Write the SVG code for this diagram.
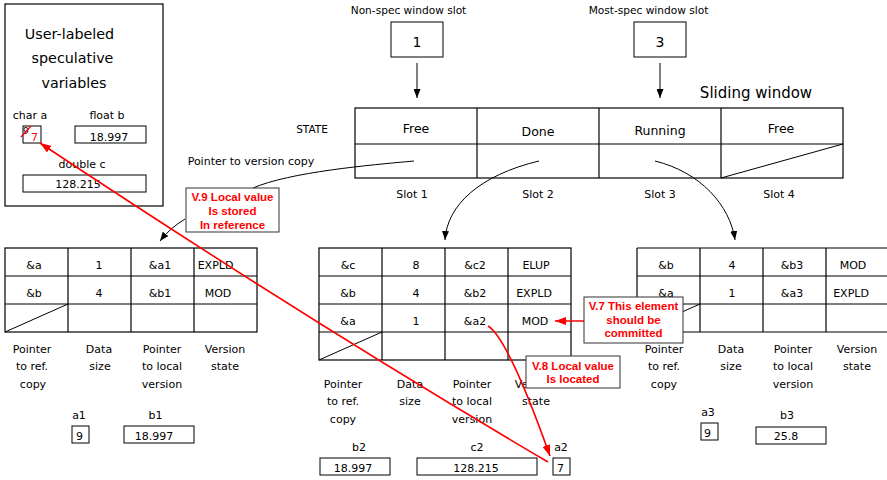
<svg xmlns="http://www.w3.org/2000/svg" width="887" height="480" viewBox="0 0 887 480">
<style>
.t{font-family:"DejaVu Sans",sans-serif;font-size:11px;fill:#000;text-anchor:middle}
.ts{font-family:"DejaVu Sans",sans-serif;font-size:11px;fill:#000;text-anchor:start}
.st{font-family:"DejaVu Sans",sans-serif;font-size:12.5px;fill:#000;text-anchor:middle}
.big{font-family:"DejaVu Sans",sans-serif;font-size:14px;fill:#000;text-anchor:middle}
.cell{fill:none;stroke:#000;stroke-width:1.2}
.box{fill:#fff;stroke:#000;stroke-width:1}
.red{font-family:"Liberation Sans",Arial,sans-serif;font-weight:bold;font-size:11.5px;fill:#f00;text-anchor:middle}
.callout{fill:#fff;stroke:#333;stroke-width:1}
.conn{fill:none;stroke:#000;stroke-width:1}
.rconn{fill:none;stroke:#f00;stroke-width:1.6}
</style>
<defs>
<marker id="ah" markerUnits="userSpaceOnUse" markerWidth="9" markerHeight="7" refX="9" refY="3.5" orient="auto"><path d="M0,0 L9,3.5 L0,7 z" fill="#000"/></marker>
<marker id="rah" markerUnits="userSpaceOnUse" markerWidth="11" markerHeight="8" refX="11" refY="4" orient="auto"><path d="M0,0 L11,4 L0,8 z" fill="#f00"/></marker>
</defs>
<rect width="887" height="480" fill="#fff"/>

<g id="user-vars">
<rect x="5" y="4" width="158" height="202" class="cell"/>
<text x="69.5" y="39" class="big" style="font-size:14.3px">User-labeled</text>
<text x="72.5" y="63" class="big" style="font-size:14.3px">speculative</text>
<text x="74" y="88" class="big" style="font-size:14.3px">variables</text>
<text x="30" y="119" class="t">char a</text>
<text x="107" y="119" class="t">float b</text>
<rect x="23" y="126" width="18" height="17" class="box"/>
<text x="23" y="134" class="ts" style="font-size:9px">9</text>
<line x1="21" y1="137" x2="31" y2="126" stroke="#f00" stroke-width="1.3"/>
<text x="31" y="141" class="ts" style="fill:#f00">7</text>
<rect x="75" y="126" width="71" height="17" class="box"/>
<text x="109" y="141" class="t">18.997</text>
<text x="82" y="168" class="t">double c</text>
<rect x="23" y="175" width="123" height="17" class="box"/>
<text x="78" y="188" class="t">128.215</text>
</g>

<g id="nonspec-slot">
<text x="408.5" y="14" class="t" style="font-size:10.6px">Non-spec window slot</text>
<rect x="391" y="22" width="52" height="35" class="box"/>
<text x="417" y="47" class="big">1</text>
</g>
<g id="mostspec-slot">
<text x="648.5" y="14" class="t" style="font-size:10.6px">Most-spec window slot</text>
<rect x="634" y="22" width="52" height="35" class="box"/>
<text x="660" y="47" class="big">3</text>
</g>

<g id="sliding-window">
<text x="756" y="98" class="big" style="font-size:15px">Sliding window</text>
<text x="312" y="133" class="t" style="font-size:10.5px">STATE</text>
<text x="251" y="165" class="t">Pointer to version copy</text>
<rect x="355" y="108" width="488" height="70" class="cell"/>
<line x1="355" y1="144" x2="843" y2="144" class="cell"/>
<line x1="477" y1="108" x2="477" y2="178" class="cell"/>
<line x1="599" y1="108" x2="599" y2="178" class="cell"/>
<line x1="721" y1="108" x2="721" y2="178" class="cell"/>
<line x1="721" y1="178" x2="843" y2="144" class="conn"/>
<text x="416" y="133" class="st">Free</text>
<text x="538" y="136" class="st">Done</text>
<text x="660" y="135" class="st">Running</text>
<text x="781" y="133" class="st">Free</text>
<text x="412" y="198" class="t">Slot 1</text>
<text x="538" y="198" class="t">Slot 2</text>
<text x="660" y="198" class="t">Slot 3</text>
<text x="779" y="198" class="t">Slot 4</text>
</g>

<g id="table-slot1">
<rect x="5" y="248" width="252" height="84" class="cell"/>
<line x1="5" y1="276" x2="257" y2="276" class="cell"/>
<line x1="5" y1="304" x2="257" y2="304" class="cell"/>
<line x1="68" y1="248" x2="68" y2="332" class="cell"/>
<line x1="131" y1="248" x2="131" y2="332" class="cell"/>
<line x1="194" y1="248" x2="194" y2="332" class="cell"/>
<line x1="5" y1="332" x2="68" y2="304" class="conn"/>
<text x="34" y="269" class="t">&amp;a</text>
<text x="99" y="269" class="t">1</text>
<text x="160" y="269" class="t">&amp;a1</text>
<text x="215.5" y="269" class="t">EXPLD</text>
<text x="34" y="297" class="t">&amp;b</text>
<text x="99" y="297" class="t">4</text>
<text x="160" y="297" class="t">&amp;b1</text>
<text x="218" y="297" class="t">MOD</text>
<text x="32" y="353" class="t">Pointer</text>
<text x="32" y="370" class="t">to ref.</text>
<text x="33" y="388" class="t">copy</text>
<text x="99" y="353" class="t">Data</text>
<text x="100" y="370" class="t">size</text>
<text x="162" y="353" class="t">Pointer</text>
<text x="162" y="370" class="t">to local</text>
<text x="162" y="388" class="t">version</text>
<text x="225" y="353" class="t">Version</text>
<text x="225" y="370" class="t">state</text>
<text x="79" y="419" class="t">a1</text>
<rect x="72" y="426" width="17" height="17" class="box"/>
<text x="76" y="440" class="ts">9</text>
<text x="155.5" y="419" class="t">b1</text>
<rect x="124" y="426" width="70" height="17" class="box"/>
<text x="154" y="440" class="t">18.997</text>
</g>

<g id="table-slot2">
<rect x="319" y="248" width="252" height="112" class="cell"/>
<line x1="319" y1="276" x2="571" y2="276" class="cell"/>
<line x1="319" y1="304" x2="571" y2="304" class="cell"/>
<line x1="319" y1="332" x2="571" y2="332" class="cell"/>
<line x1="382" y1="248" x2="382" y2="360" class="cell"/>
<line x1="445" y1="248" x2="445" y2="360" class="cell"/>
<line x1="508" y1="248" x2="508" y2="360" class="cell"/>
<line x1="319" y1="360" x2="382" y2="332" class="conn"/>
<text x="348" y="269" class="t">&amp;c</text>
<text x="416" y="269" class="t">8</text>
<text x="475" y="269" class="t">&amp;c2</text>
<text x="536" y="269" class="t">ELUP</text>
<text x="348" y="297" class="t">&amp;b</text>
<text x="416" y="297" class="t">4</text>
<text x="475" y="297" class="t">&amp;b2</text>
<text x="534" y="297" class="t">EXPLD</text>
<text x="348" y="325" class="t">&amp;a</text>
<text x="416" y="325" class="t">1</text>
<text x="475" y="325" class="t">&amp;a2</text>
<text x="535" y="325" class="t">MOD</text>
<text x="343" y="388" class="t">Pointer</text>
<text x="343" y="405" class="t">to ref.</text>
<text x="343" y="423" class="t">copy</text>
<text x="410" y="388" class="t">Data</text>
<text x="410" y="405" class="t">size</text>
<text x="472" y="388" class="t">Pointer</text>
<text x="472" y="405" class="t">to local</text>
<text x="472" y="423" class="t">version</text>
<text x="535" y="388" class="t">Version</text>
<text x="536" y="405" class="t">state</text>
<text x="359" y="451" class="t">b2</text>
<rect x="320" y="458" width="70" height="17" class="box"/>
<text x="353" y="472" class="t">18.997</text>
<text x="477" y="451" class="t">c2</text>
<rect x="417" y="458" width="120" height="17" class="box"/>
<text x="476" y="472" class="t">128.215</text>
<text x="561" y="451" class="t">a2</text>
<rect x="553" y="458" width="17" height="17" class="box"/>
<text x="557" y="472" class="ts">7</text>
</g>

<g id="table-slot3">
<line x1="637" y1="248" x2="889" y2="248" class="cell"/>
<line x1="637" y1="276" x2="889" y2="276" class="cell"/>
<line x1="637" y1="304" x2="889" y2="304" class="cell"/>
<line x1="637" y1="332" x2="889" y2="332" class="cell"/>
<line x1="637" y1="248" x2="637" y2="332" class="cell"/>
<line x1="700" y1="248" x2="700" y2="332" class="cell"/>
<line x1="763" y1="248" x2="763" y2="332" class="cell"/>
<line x1="826" y1="248" x2="826" y2="332" class="cell"/>
<line x1="637" y1="332" x2="700" y2="304" class="conn"/>
<text x="666" y="269" class="t">&amp;b</text>
<text x="732" y="269" class="t">4</text>
<text x="792" y="269" class="t">&amp;b3</text>
<text x="853" y="269" class="t">MOD</text>
<text x="666" y="297" class="t">&amp;a</text>
<text x="732" y="297" class="t">1</text>
<text x="792" y="297" class="t">&amp;a3</text>
<text x="851" y="297" class="t">EXPLD</text>
<text x="664" y="353" class="t">Pointer</text>
<text x="664" y="370" class="t">to ref.</text>
<text x="664" y="388" class="t">copy</text>
<text x="731" y="353" class="t">Data</text>
<text x="731" y="370" class="t">size</text>
<text x="793" y="353" class="t">Pointer</text>
<text x="793" y="370" class="t">to local</text>
<text x="793" y="388" class="t">version</text>
<text x="857" y="353" class="t">Version</text>
<text x="857" y="370" class="t">state</text>
<text x="708" y="416" class="t">a3</text>
<rect x="701" y="423" width="17" height="17" class="box"/>
<text x="704" y="437" class="ts">9</text>
<text x="787" y="419" class="t">b3</text>
<rect x="756" y="427" width="70" height="17" class="box"/>
<text x="786" y="440" class="t">25.8</text>
</g>

<g id="connectors">
<line x1="417" y1="63" x2="417" y2="98" class="conn" marker-end="url(#ah)"/>
<line x1="660" y1="63" x2="660" y2="98" class="conn" marker-end="url(#ah)"/>
<path d="M414,161 C370,165 290,172 253,188" class="conn"/>
<path d="M185,219 Q170,228 160,241" class="conn" marker-end="url(#ah)"/>
<path d="M539,161 C480,175 447,205 445,240" class="conn" marker-end="url(#ah)"/>
<path d="M655,161 C700,172 730,205 735,240" class="conn" marker-end="url(#ah)"/>
<path d="M548,462 Q306,319.5 40,143" class="rconn" marker-end="url(#rah)"/>
<path d="M488,326 Q508,338 550,456" class="rconn" marker-end="url(#rah)"/>
<line x1="600" y1="321" x2="555" y2="321" class="rconn" marker-end="url(#rah)"/>
</g>

<g id="callout-v9">
<rect x="186" y="188" width="93" height="44" class="callout"/>
<text x="232.5" y="201" class="red">V.9 Local value</text>
<text x="232.5" y="215" class="red">Is stored</text>
<text x="232.5" y="229" class="red">In reference</text>
</g>
<g id="callout-v7">
<rect x="584" y="297" width="99" height="46" class="callout"/>
<text x="633.5" y="310" class="red">V.7 This element</text>
<text x="633.5" y="324" class="red">should be</text>
<text x="633.5" y="337" class="red">committed</text>
</g>
<g id="callout-v8">
<rect x="526" y="356" width="94" height="32" class="callout"/>
<text x="573" y="370" class="red">V.8 Local value</text>
<text x="573" y="383" class="red">Is located</text>
</g>
</svg>
